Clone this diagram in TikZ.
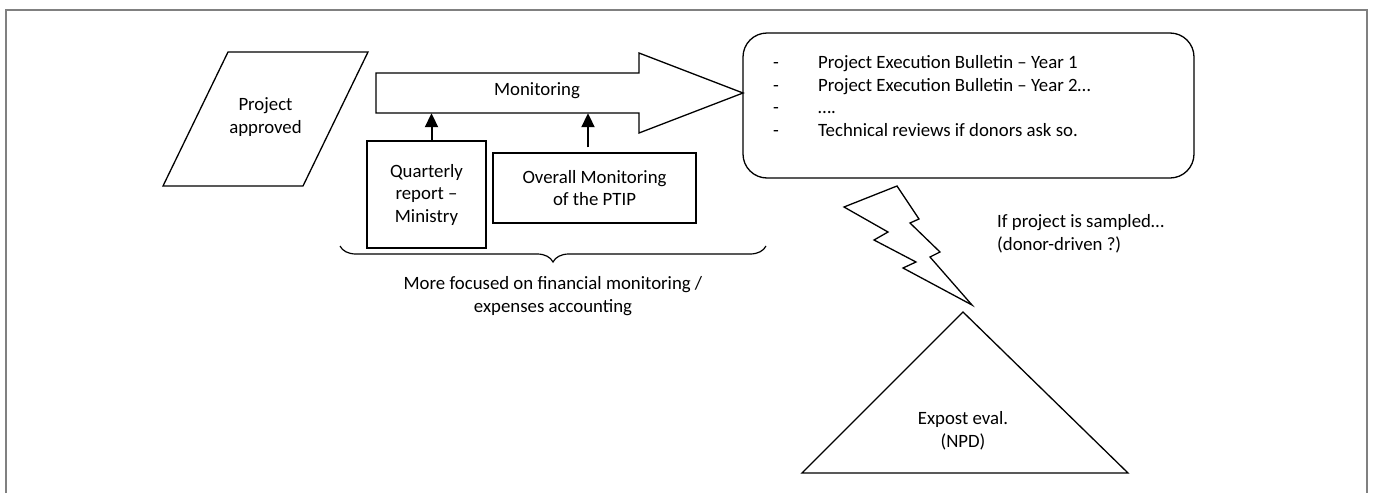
\documentclass[tikz,border=0pt]{standalone}
\usepackage{fontspec}
\setmainfont{Carlito}
\usetikzlibrary{arrows.meta,decorations.pathreplacing}
\begin{document}
\begin{tikzpicture}[x=1pt,y=-1pt]
\tikzset{
 outl/.style={draw=black,line width=1.3pt,line join=miter},
 txt/.style={font=\fontsize{18.8}{22.5}\selectfont,align=center,inner sep=0pt},
 conn/.style={line width=2pt,-{Triangle[length=14pt,width=13pt]}},
 frame/.style={draw=black!50,line width=1.2pt}
}
\useasboundingbox (0,0) rectangle (1373,493);
\draw[frame] (6,493) -- (6,10) -- (1367,10) -- (1367,493);

% parallelogram
\draw[outl] (228,52) -- (368,52) -- (303,186) -- (163,186) -- cycle;
\node[txt] (pa) at (265.5,117) {Project\\approved};

% monitoring arrow
\draw[outl] (376,73) -- (639,73) -- (639,53) -- (743,93) -- (639,133) -- (639,113) -- (376,113) -- cycle;
\node[inner sep=0pt,minimum width=263pt,minimum height=40pt] (mon) at (507.5,93) {};
\node[txt] (monl) at (537,91) {Monitoring};

% boxes
\node[outl,txt,minimum width=119pt,minimum height=107pt] (qr) at (426.5,194.5) {Quarterly\\report –\\Ministry};
\node[outl,txt,minimum width=203pt,minimum height=70pt] (ov) at (594.5,188) {Overall Monitoring\\of the PTIP};

\draw[conn] ([xshift=5pt]qr.north) -- ([xshift=5pt]qr.north |- mon.south);
\draw[conn] ([xshift=-6.5pt,yshift=5pt]ov.north) -- ([xshift=-6.5pt]ov.north |- mon.south);

% brace
\coordinate (bl) at (340,246);
\coordinate (br) at (766,246);
\draw[line width=1.2pt,decorate,decoration={brace,mirror,amplitude=16pt}] (bl) -- (br);
\node[txt] (fin) at (553,296) {More focused on financial monitoring /\\expenses accounting};

% rounded box
\node[outl,rounded corners=24pt,minimum width=451pt,minimum height=145pt] (bx) at (968.5,105.5) {};
\node[txt,anchor=north west] (lst) at (773,53) {\begin{tabular}{@{}p{45pt}@{}l@{}}
-&Project Execution Bulletin – Year 1\\
-&Project Execution Bulletin – Year 2…\\
-&….\\
-&Technical reviews if donors ask so.
\end{tabular}};

% lightning
\draw[outl] (897,186) -- (844,207) -- (888,232) -- (874,240) -- (916,262) -- (903,268) -- (972,305) -- (930,257) -- (940,252) -- (910,223) -- (919,219) -- cycle;
\node[txt,align=left,anchor=west] (smp) at (997,234) {If project is sampled…\\(donor-driven ?)};

% triangle
\draw[outl] (963,312) -- (1128,473) -- (802,473) -- cycle;
\node[txt] (ex) at (963,431) {Expost eval.\\(NPD)};
\end{tikzpicture}
\end{document}
